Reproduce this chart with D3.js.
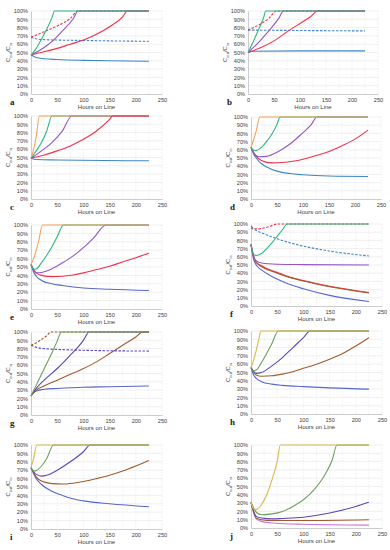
<!DOCTYPE html>
<html>
<head>
<meta charset="utf-8">
<script src="https://cdn.jsdelivr.net/npm/d3@7"></script>
<style>
  body { margin: 0; background: #fff; }
  svg { display: block; }
</style>
</head>
<body>
<div id="chart"></div>
<script>
// x ticks / y ticks shared by all ten panels
const xTicks = [0, 50, 100, 150, 200, 250];
const yTicks = [0, 10, 20, 30, 40, 50, 60, 70, 80, 90, 100];
const letters = ["a", "b", "c", "d", "e", "f", "g", "h", "i", "j"];

// panel a
const aBlue = [[0,47],[10,44],[25,42.5],[50,41.5],[100,40.5],[150,40],[225,39.5]];
const aBlueDash = [[0,68],[10,66.5],[25,65.5],[50,65],[100,64.5],[150,64],[225,63.5]];
const aRedDash = [[0,68.5],[25,75],[50,82],[75,91],[90,100],[225,100]];
const aRed = [[0,47],[25,51],[50,55],[75,60],[100,65],[125,72],[150,81],[175,93],[184,100],[225,100]];
const aPurple = [[0,47],[20,54],[40,63],[60,76],[80,90],[90,100],[225,100]];
const aGreen = [[0,47],[10,55],[20,66],[30,78],[40,92],[45,100],[225,100]];
// panel b
const bBlue = [[0,50],[10,51.5],[100,52],[225,52]];
const bBlueDash = [[0,77],[100,76.5],[225,76]];
const bRedDash = [[0,77],[20,83],[40,91],[55,100],[225,100]];
const bRed = [[0,50],[25,56],[50,64],[80,77],[100,85],[120,93],[134,100],[225,100]];
const bPurple = [[0,50],[20,62],[40,76],[60,92],[68,100],[225,100]];
const bGreen = [[0,50],[10,63],[20,77],[30,92],[34,100],[225,100]];
// panel c
const cBlue = [[0,49],[10,47.5],[50,47],[225,46]];
const cOrange = [[0,49],[5,60],[10,75],[16,100],[225,100]];
const cGreen = [[0,49],[10,58],[20,68],[30,82],[40,100],[225,100]];
const cPurple = [[0,49],[20,58],[40,68],[60,82],[78,100],[225,100]];
const cRed = [[0,49],[25,53],[50,58],[75,64],[100,72],[125,82],[150,96],[156,100],[225,100]];
// panel d
const dBlue = [[0,63],[5,55],[10,50],[20,43],[30,39],[50,34],[75,31],[100,29.5],[150,28],[225,27.5]];
const dRed = [[0,63],[10,52],[20,47],[40,44],[60,44.5],[80,46],[100,48.5],[125,53],[150,58],[175,65],[200,73],[225,84]];
const dPurple = [[0,63],[5,56],[15,51.5],[30,52],[50,57],[75,67],[100,81],[115,90],[127,100],[225,100]];
const dGreen = [[0,63],[5,59.5],[10,59],[20,63],[30,70],[40,79],[50,91],[56,100],[225,100]];
const dOrange = [[0,63],[5,72],[10,83],[17,100],[225,100]];
// panel e
const eBlue = [[0,53],[5,44],[10,39],[20,34],[40,30],[60,28],[100,25],[150,23.5],[225,22]];
const eRed = [[0,53],[10,43],[20,40],[40,38.5],[60,39],[80,40.5],[100,43],[125,47],[150,51],[175,56],[200,61],[225,66.5]];
const ePurple = [[0,53],[10,43],[20,43.5],[40,48],[60,55],[80,63],[100,73],[120,85],[143,100],[225,100]];
const eGreen = [[0,53],[5,47],[10,47.5],[20,55],[30,64],[40,74],[50,86],[62,100],[225,100]];
const eOrange = [[0,53],[5,60],[10,70],[15,82],[22,100],[225,100]];
// panel f
const fBlue = [[0,75],[5,57],[10,50],[20,44],[40,36],[60,30],[80,25],[100,21],[150,13],[225,5.5]];
const fBrown = [[0,75],[10,53],[50,40],[100,30.5],[150,23.5],[225,16]];
const fRed = [[0,75],[5,60],[10,54],[20,49],[50,41],[75,35],[100,31],[150,24],[225,16.5]];
const fPurple = [[0,75],[5,60],[10,55],[20,52.5],[50,51],[100,50.5],[225,50]];
const fGreen = [[0,75],[5,63],[10,61.5],[20,64],[30,70],[40,77],[50,85],[60,93],[69,100],[225,100]];
const fBlueDash = [[0,95],[25,88],[50,82],[75,77],[100,73],[150,67],[225,61]];
const fRedDash = [[0,97],[10,94],[20,94.5],[30,96],[40,98],[50,100],[225,100]];
// panel g
const gBlue = [[0,23],[5,27],[10,29],[25,31],[50,32],[100,33.5],[150,34],[225,35]];
const gBrown = [[0,23],[10,30],[25,35],[50,42],[75,49],[100,56],[125,64],[150,74],[175,84],[200,94],[213,100],[225,100]];
const gPurple = [[0,23],[10,32],[25,42],[50,56],[75,72],[90,82],[100,90],[111,100],[225,100]];
const gGreen = [[0,23],[10,36],[20,49],[30,62],[40,75],[50,89],[58,100],[225,100]];
const gPurpleDash = [[0,84],[10,81.5],[25,80],[50,79],[100,78],[225,77]];
const gBrownDash = [[0,84],[10,87],[20,91],[30,95.5],[38,100],[225,100]];
// panel h
const hBlue = [[0,56],[5,47],[10,43],[20,39],[40,36],[60,34.5],[100,33],[150,31.5],[225,30]];
const hBrown = [[0,56],[10,47],[20,45.5],[40,46],[60,48],[80,51],[100,55],[125,60],[150,66],[175,73],[200,82],[225,92]];
const hPurple = [[0,56],[10,49],[20,50],[40,58],[60,68],[80,80],[100,92],[113,100],[225,100]];
const hGreen = [[0,56],[5,52],[10,53],[20,62],[30,73],[40,85],[52,100],[225,100]];
const hYellow = [[0,56],[5,65],[10,77],[15,90],[19,100],[225,100]];
// panel i
const iBlue = [[0,73],[10,60],[20,53],[40,45],[60,40],[80,36],[100,33.5],[150,30],[225,26.5]];
const iBrown = [[0,73],[10,62],[20,57],[40,54],[60,53.5],[80,54.5],[100,56.5],[125,60],[150,64],[175,69],[200,75],[225,81.5]];
const iPurple = [[0,73],[10,65],[20,63],[30,64],[50,70],[75,80],[100,92],[113,100],[225,100]];
const iGreen = [[0,73],[5,69],[10,69.5],[20,75],[30,84],[43,100],[225,100]];
const iYellow = [[0,73],[5,84],[11,100],[225,100]];
// panel j
const jViolet = [[0,31],[10,11],[20,8],[40,6],[100,4.5],[225,3.5]];
const jBrown = [[0,31],[10,12],[20,10],[40,9],[100,9],[225,10]];
const jPurple = [[0,31],[10,14],[20,12],[40,11],[60,11.5],[100,13],[150,18],[200,26],[225,31]];
const jGreen = [[0,31],[10,19],[20,16],[40,17],[60,20],[80,26],[100,34],[120,46],[140,63],[155,82],[164,100],[225,100]];
const jYellow = [[0,31],[5,23],[10,22.5],[20,28],[30,40],[40,58],[50,80],[56,100],[225,100]];

const C = {
    blue: "#3f86c4", red: "#f0304c", purple: "#9457c2", green: "#2fb67a", orange: "#f4a25c",
    blue2: "#5568cc", brown: "#a35a2c", purple2: "#5848b8", green2: "#6f9f5c", yellow: "#d8b84a",
    violet: "#c276e0"
};

const panels = [
    { x: 31, y: 11, w: 131, h: 83, series: [
        [aBlue, C.blue], [aBlueDash, C.blue, true], [aRedDash, C.red, true], [aRed, C.red], [aPurple, C.purple], [aGreen, C.green]] },
    { x: 248, y: 11, w: 130, h: 83, series: [
        [bBlue, C.blue], [bBlueDash, C.blue, true], [bRedDash, C.red, true], [bRed, C.red], [bPurple, C.purple], [bGreen, C.green]] },
    { x: 31, y: 116, w: 131, h: 83, series: [
        [cBlue, C.blue], [cGreen, C.green], [cPurple, C.purple], [cOrange, C.orange], [cRed, C.red]] },
    { x: 251, y: 117, w: 130, h: 82, series: [
        [dBlue, C.blue], [dRed, C.red], [dPurple, C.purple], [dGreen, C.green], [dOrange, C.orange]] },
    { x: 31, y: 225, w: 131, h: 84, series: [
        [eBlue, C.blue2], [eRed, C.red], [ePurple, C.purple], [eGreen, C.green], [eOrange, C.orange]] },
    { x: 251, y: 224, w: 131, h: 82, series: [
        [fBlue, C.blue2], [fRed, C.red], [fBrown, C.brown], [fPurple, C.purple], [fBlueDash, C.blue, true], [fRedDash, C.red, true], [fGreen, C.green]] },
    { x: 31, y: 332, w: 131, h: 83, series: [
        [gBlue, C.blue2], [gBrown, C.brown], [gPurple, C.purple2], [gPurpleDash, C.purple2, true], [gBrownDash, C.brown, true], [gGreen, C.green2]] },
    { x: 251, y: 331, w: 131, h: 83, series: [
        [hBlue, C.blue2], [hBrown, C.brown], [hPurple, C.purple2], [hGreen, C.green2], [hYellow, C.yellow]] },
    { x: 31, y: 445, w: 131, h: 84, series: [
        [iBlue, C.blue2], [iBrown, C.brown], [iPurple, C.purple2], [iGreen, C.green2], [iYellow, C.yellow]] },
    { x: 251, y: 445, w: 131, h: 83, series: [
        [jViolet, C.violet], [jBrown, C.brown], [jPurple, C.purple2], [jGreen, C.green2], [jYellow, C.yellow]] }
];

const svg = d3.select("#chart").append("svg")
    .attr("width", 390)
    .attr("height", 550)
    .attr("viewBox", [0, 0, 390, 550])
    .style("font-family", "'Liberation Sans', Arial, sans-serif");

panels.forEach((p, k) => {
    const xScale = d3.scaleLinear().domain([0, 250]).range([p.x, p.x + p.w]);
    const yScale = d3.scaleLinear().domain([0, 100]).range([p.y + p.h, p.y]);
    const g = svg.append("g");

    // grid
    g.append("g").selectAll("line.hg")
        .data(yTicks.slice(1))
        .join("line")
        .attr("x1", p.x).attr("x2", p.x + p.w)
        .attr("y1", d => yScale(d)).attr("y2", d => yScale(d))
        .attr("stroke", "#e4e4e4").attr("stroke-width", 0.6);
    g.append("g").selectAll("line.vg")
        .data(d3.range(25, 251, 25))
        .join("line")
        .attr("x1", d => xScale(d)).attr("x2", d => xScale(d))
        .attr("y1", p.y).attr("y2", p.y + p.h)
        .attr("stroke", "#e4e4e4").attr("stroke-width", 0.6)
        .attr("stroke-dasharray", "1.5,1.5");

    // axes
    const xAxis = d3.axisBottom(xScale).tickValues(xTicks).tickSize(0).tickPadding(4);
    const yAxis = d3.axisLeft(yScale).tickValues(yTicks).tickSize(0).tickPadding(3).tickFormat(d => d + "%");
    g.append("g")
        .attr("transform", `translate(0,${p.y + p.h})`)
        .call(xAxis)
        .call(a => a.select(".domain").attr("stroke", "#bfbfbf").attr("stroke-width", 0.8))
        .call(a => a.selectAll("text").attr("font-size", 5.6).attr("fill", "#404040").attr("font-family", null));
    g.append("g")
        .attr("transform", `translate(${p.x},0)`)
        .call(yAxis)
        .call(a => a.select(".domain").attr("stroke", "#bfbfbf").attr("stroke-width", 0.8))
        .call(a => a.selectAll("text").attr("font-size", 5.6).attr("fill", "#404040").attr("font-family", null));

    // axis titles
    g.append("text")
        .attr("x", p.x + p.w / 2)
        .attr("y", p.y + p.h + 15)
        .attr("text-anchor", "middle")
        .attr("font-size", 6)
        .attr("fill", "#404040")
        .text("Hours on Line");

    const yt = g.append("text")
        .attr("transform", `translate(${p.x - 21},${p.y + p.h / 2}) rotate(-90)`)
        .attr("text-anchor", "middle")
        .attr("font-size", 6)
        .attr("fill", "#404040");
    yt.append("tspan").text("C");
    yt.append("tspan").attr("font-size", 4).attr("dy", 1.5).text("out");
    yt.append("tspan").attr("dy", -1.5).text("/C");
    yt.append("tspan").attr("font-size", 4).attr("dy", 1.5).text("in");

    // panel letter
    g.append("text")
        .attr("x", p.x - 21)
        .attr("y", p.y + p.h + 11)
        .attr("font-family", "'Liberation Serif', serif")
        .attr("font-weight", "bold")
        .attr("font-size", 9)
        .attr("fill", "#222")
        .text(letters[k]);

    // curves
    const line = d3.line()
        .curve(d3.curveMonotoneX)
        .x(d => xScale(d[0]))
        .y(d => yScale(d[1]));

    g.append("g").selectAll("path")
        .data(p.series)
        .join("path")
        .attr("fill", "none")
        .attr("stroke", d => d[1])
        .attr("stroke-width", 1.1)
        .attr("stroke-dasharray", d => d[2] ? "2.5,1.5" : null)
        .attr("stroke-linejoin", "round")
        .attr("d", d => line(d[0]));
});
</script>
</body>
</html>
